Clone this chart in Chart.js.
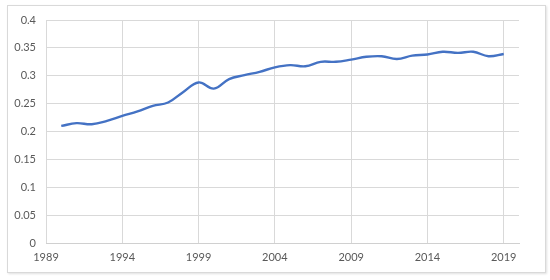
<!DOCTYPE html>
<html>
<head>
<meta charset="utf-8">
<script src="https://cdn.jsdelivr.net/npm/chart.js@4"></script>
<style>
html,body{margin:0;padding:0;background:#fff;}
#frame{position:absolute;left:7px;top:5px;width:537px;height:266px;border:1px solid #d9d9d9;box-shadow:1px 1px 2px rgba(0,0,0,0.12);}
#wrap{position:absolute;left:0;top:0;width:550px;height:280px;}
</style>
</head>
<body>
<div id="frame"></div>
<div id="wrap"><canvas id="c" width="550" height="280"></canvas></div>
<script>
const years = [1990,1991,1992,1993,1994,1995,1996,1997,1998,1999,2000,2001,2002,2003,2004,2005,2006,2007,2008,2009,2010,2011,2012,2013,2014,2015,2016,2017,2018,2019];
const values = [0.210,0.215,0.213,0.219,0.228,0.236,0.246,0.252,0.271,0.288,0.277,0.294,0.301,0.307,0.315,0.319,0.317,0.325,0.325,0.329,0.334,0.335,0.330,0.336,0.338,0.343,0.341,0.343,0.335,0.339];
const xTicks = [1989,1994,1999,2004,2009,2014,2019];
const yTicks = [0,0.05,0.1,0.15,0.2,0.25,0.3,0.35,0.4];

const tickFont = {family:'Lato, "Open Sans", sans-serif', size:11};
new Chart(document.getElementById('c'), {
  type:'line',
  data:{datasets:[{
    data: years.map((y,i)=>({x:y,y:values[i]})),
    borderColor:'#4472C4',
    borderWidth:2.4,
    pointRadius:0,
    tension:0.4,
    fill:false
  }]},
  options:{
    responsive:false,
    animation:false,
    events:[],
    layout:{padding:{left:0,right:31,top:20,bottom:0}},
    plugins:{legend:{display:false},tooltip:{enabled:false}},
    scales:{
      x:{
        type:'linear',
        min:1989,max:2020,
        afterBuildTicks:(s)=>{s.ticks = xTicks.map(v=>({value:v}));},
        afterFit:(s)=>{s.height=37;},
        grid:{color:'#d9d9d9',drawTicks:false,lineWidth:1},
        border:{color:'#d0d0d0'},
        ticks:{color:'#595959',font:tickFont,padding:8,maxRotation:0,autoSkip:false,callback:(v)=>String(v)}
      },
      y:{
        min:0,max:0.4,
        afterBuildTicks:(s)=>{s.ticks = yTicks.map(v=>({value:v}));},
        afterFit:(s)=>{s.width=46;},
        grid:{color:'#d9d9d9',drawTicks:false,lineWidth:1},
        border:{display:false},
        ticks:{color:'#595959',font:tickFont,padding:10,callback:(v)=>String(+v.toFixed(2))}
      }
    }
  }
});
</script>
</body>
</html>
